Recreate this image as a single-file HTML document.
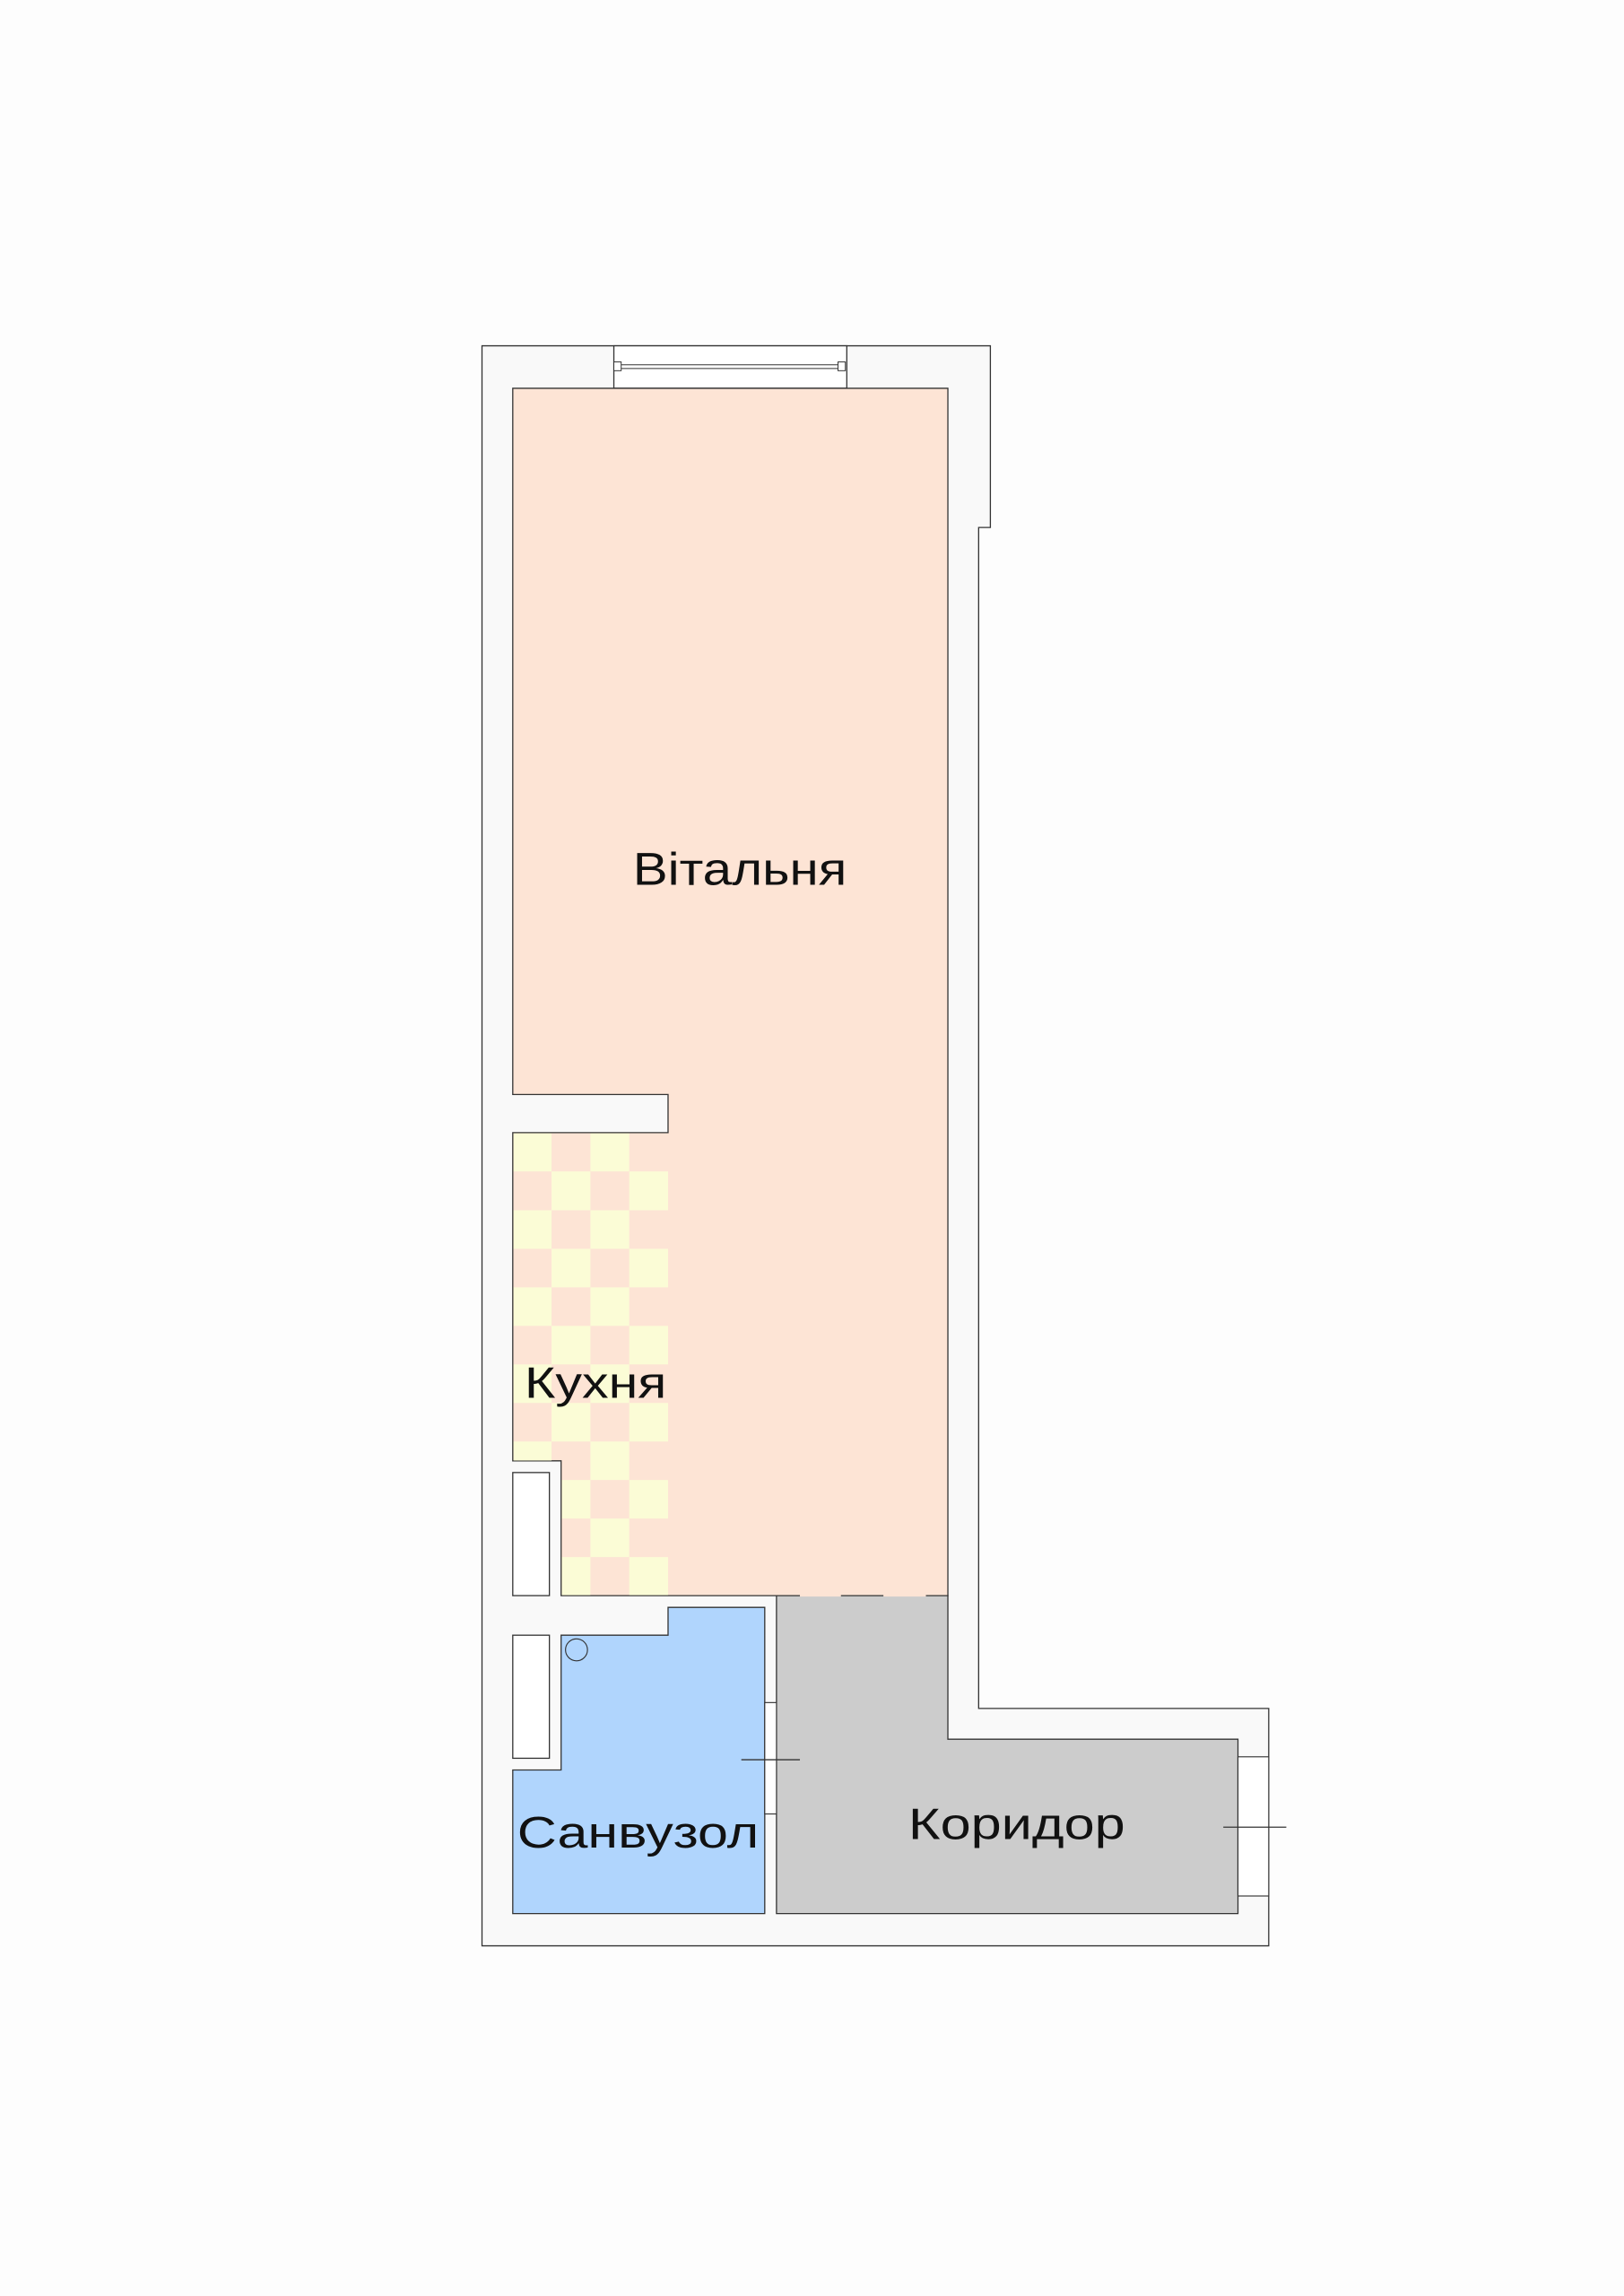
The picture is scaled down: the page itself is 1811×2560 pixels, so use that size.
<!DOCTYPE html>
<html><head><meta charset="utf-8"><style>
html,body{margin:0;padding:0;background:#fdfdfd;}
svg{display:block;}
text{font-family:"Liberation Sans",sans-serif;fill:#111;}
</style></head><body>
<svg width="1811" height="2560" viewBox="0 0 1108.5 1567" preserveAspectRatio="none" xmlns="http://www.w3.org/2000/svg">
<rect width="1108.5" height="1567" fill="#fdfdfd"/>
<path d="M329,236 H676 V360 H668 V1166 H866 V1328 H329 Z" fill="#f9f9f9" stroke="#333" stroke-width="0.8"/>
<rect x="419" y="236" width="159" height="29" fill="#fff" stroke="#333" stroke-width="0.8"/>
<rect x="419" y="247" width="5" height="6" fill="#fff" stroke="#333" stroke-width="0.6"/>
<rect x="572" y="247" width="5" height="6" fill="#fff" stroke="#333" stroke-width="0.6"/>
<line x1="424" y1="249" x2="572" y2="249" stroke="#333" stroke-width="0.6"/>
<line x1="424" y1="251.5" x2="572" y2="251.5" stroke="#333" stroke-width="0.6"/>
<path d="M350,265 H647 V1089 H383 V997 H350 V773 H456 V747 H350 Z" fill="#fde4d5" stroke="#333" stroke-width="0.8"/>
<g fill="#fbfcd6">
<rect x="350.5" y="773.5" width="26" height="26"/><rect x="403" y="773.5" width="26.5" height="26"/>
<rect x="376.5" y="799.5" width="26.5" height="26.5"/><rect x="429.5" y="799.5" width="26.5" height="26.5"/>
<rect x="350.5" y="826" width="26" height="26.3"/><rect x="403" y="826" width="26.5" height="26.3"/>
<rect x="376.5" y="852.3" width="26.5" height="26.3"/><rect x="429.5" y="852.3" width="26.5" height="26.3"/>
<rect x="350.5" y="878.6" width="26" height="26.3"/><rect x="403" y="878.6" width="26.5" height="26.3"/>
<rect x="376.5" y="904.9" width="26.5" height="26.3"/><rect x="429.5" y="904.9" width="26.5" height="26.3"/>
<rect x="350.5" y="931.2" width="26" height="26.3"/><rect x="403" y="931.2" width="26.5" height="26.3"/>
<rect x="376.5" y="957.5" width="26.5" height="26.3"/><rect x="429.5" y="957.5" width="26.5" height="26.3"/>
<rect x="350.5" y="983.8" width="26" height="13"/><rect x="403" y="983.8" width="26.5" height="26.3"/>
<rect x="383.5" y="1010.1" width="19.5" height="26.3"/><rect x="429.5" y="1010.1" width="26.5" height="26.3"/>
<rect x="403" y="1036.4" width="26.5" height="26.3"/>
<rect x="383.5" y="1062.7" width="19.5" height="26"/><rect x="429.5" y="1062.7" width="26.5" height="26"/>
</g>
<rect x="350" y="1005" width="25" height="84" fill="#fff" stroke="#333" stroke-width="0.8"/>
<rect x="350" y="1116" width="25" height="84" fill="#fff" stroke="#333" stroke-width="0.8"/>
<path d="M383,1116 H456 V1097 H522 V1306 H350 V1208 H383 Z" fill="#b0d5fd" stroke="#333" stroke-width="0.8"/>
<circle cx="393.5" cy="1126" r="7.5" fill="none" stroke="#333" stroke-width="0.7"/>
<path d="M530,1089 H647 V1187 H845 V1306 H530 Z" fill="#cccccc" stroke="#333" stroke-width="0.8"/>
<g stroke="#fde4d5" stroke-width="1.2"><line x1="546" y1="1089" x2="574" y2="1089"/><line x1="603" y1="1089" x2="632" y2="1089"/></g>
<rect x="522" y="1162" width="8" height="76" fill="#fff" stroke="#333" stroke-width="0.7"/>
<line x1="506" y1="1201" x2="546" y2="1201" stroke="#333" stroke-width="0.8"/>
<rect x="845" y="1199" width="21" height="95" fill="#fff" stroke="#333" stroke-width="0.7"/>
<line x1="835" y1="1247" x2="878" y2="1247" stroke="#333" stroke-width="0.8"/>
<text x="432" y="604" font-size="31" textLength="146" lengthAdjust="spacingAndGlyphs">Вітальня</text>
<text x="358" y="954" font-size="30" textLength="97" lengthAdjust="spacingAndGlyphs">Кухня</text>
<text x="353" y="1261" font-size="30" textLength="165" lengthAdjust="spacingAndGlyphs">Санвузол</text>
<text x="620" y="1255" font-size="30" textLength="148" lengthAdjust="spacingAndGlyphs">Коридор</text>
</svg>
</body></html>
